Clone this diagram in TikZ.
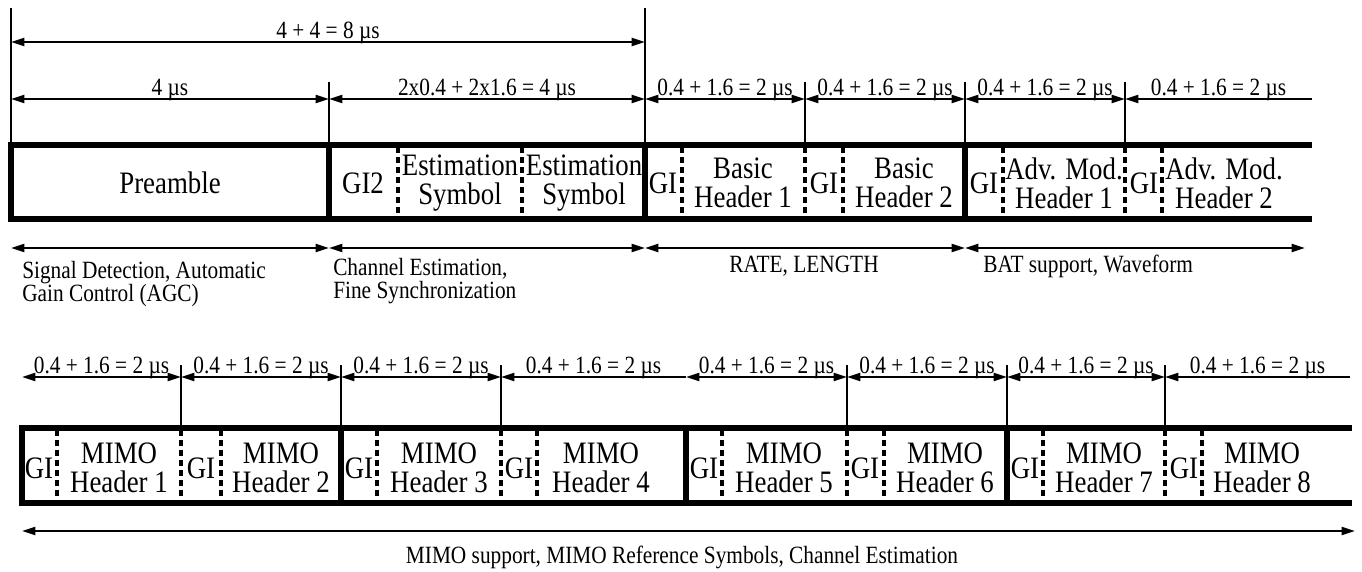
\documentclass[tikz,border=0pt]{standalone}
\usepackage{fontspec}
\setmainfont{Liberation Serif}[FakeStretch=0.86]
\usetikzlibrary{arrows.meta,positioning}

\begin{document}
\begin{tikzpicture}[
  x=0.75pt, y=-0.75pt,
  every node/.style={inner sep=0pt, font=\fontsize{18.6}{17.25}\selectfont},
  cellbox/.style={align=center, font=\fontsize{23.4}{21.75}\selectfont},
  notetext/.style={align=left, anchor=west},
  durlabel/.style={midway, anchor=base, yshift=3pt},
  frameline/.style={line width=3.9pt},
  gisep/.style={line width=2.3pt, dash pattern=on 4.5pt off 3pt},
  tickline/.style={line width=1.5pt},
  durarrow/.style={line width=1.5pt, {Triangle[length=10pt,width=6pt]}-{Triangle[length=10pt,width=6pt]}},
  openarrow/.style={line width=1.5pt, {Triangle[length=10pt,width=6pt]}-}
]
\useasboundingbox (0,0) rectangle (1362,571);

% upper frame
\draw[frameline] (11,145) rectangle (645,219);
\draw[frameline] (329,145) -- (329,219);
\draw[frameline] (645,145) rectangle (965,219);
\draw[frameline] (965,145) -- (1312,145) (965,219) -- (1312,219);
\foreach \x in {398,522,682,805,843,1003,1125,1162}
  \draw[gisep] (\x,147) -- (\x,217);
\draw[tickline] (11,8) -- (11,145) (645,8) -- (645,145);
\foreach \x in {329,805,965,1125}
  \draw[tickline] (\x,82) -- (\x,145);

\node[cellbox] (pre) at (170,183) {Preamble};
\node[cellbox] (gi2) at (363,183) {GI2};
\node[cellbox] (est1) at (460,183) {Estimation\\Symbol};
\node[cellbox] (est2) at (584,183) {Estimation\\Symbol};
\node[cellbox] (gib1) at (663,183) {GI};
\node[cellbox] (bh1) at (743,183) {Basic\\Header 1};
\node[cellbox] (gib2) at (824,183) {GI};
\node[cellbox] (bh2) at (904,183) {Basic\\Header 2};
\node[cellbox] (gia1) at (984,183) {GI};
\node[cellbox] (am1) at (1064,183) {Adv. Mod.\\Header 1};
\node[cellbox] (gia2) at (1144,183) {GI};
\node[cellbox] (am2) at (1224,183) {Adv. Mod.\\Header 2};

% upper durations
\coordinate (t0) at (11,42);
\coordinate (t1) at (645,42);
\draw[durarrow] (t0) -- (t1) node[durlabel] (dtot) {4 + 4 = 8 µs};
\coordinate (a0) at (11,99);
\coordinate (a1) at (329,99);
\coordinate (a2) at (645,99);
\coordinate (a3) at (805,99);
\coordinate (a4) at (965,99);
\coordinate (a5) at (1125,99);
\coordinate (a6) at (1312,99);
\draw[durarrow] (a0) -- (a1) node[durlabel] (dpre) {4 µs};
\draw[durarrow] (a1) -- (a2) node[durlabel] (dest) {2x0.4 + 2x1.6 = 4 µs};
\draw[durarrow] (a2) -- (a3) node[durlabel] (dbh1) {0.4 + 1.6 = 2 µs};
\draw[durarrow] (a3) -- (a4) node[durlabel] (dbh2) {0.4 + 1.6 = 2 µs};
\draw[durarrow] (a4) -- (a5) node[durlabel] (dam1) {0.4 + 1.6 = 2 µs};
\draw[openarrow] (a5) -- (a6) node[durlabel] (dam2) {0.4 + 1.6 = 2 µs};

% upper purposes
\coordinate (b0) at (11,248);
\coordinate (b1) at (329,248);
\coordinate (b2) at (645,248);
\coordinate (b3) at (965,248);
\coordinate (b4) at (1305,248);
\draw[durarrow] (b0) -- (b1);
\draw[durarrow] (b1) -- (b2);
\draw[durarrow] (b2) -- (b3);
\draw[durarrow] (b3) -- (b4);
\node[notetext] (agc) at (22,284) {Signal Detection, Automatic\\Gain Control (AGC)};
\node[notetext] (chest) at (333,281) {Channel Estimation,\\Fine Synchronization};
\node (rate) at (804,266) {RATE, LENGTH};
\node[notetext] (bat) at (983,266) {BAT support, Waveform};

% lower frame
\draw[frameline] (22,428) rectangle (341,503);
\draw[frameline] (341,428) rectangle (686,503);
\draw[frameline] (686,428) rectangle (1007,503);
\draw[frameline] (1007,428) -- (1352,428) (1007,503) -- (1352,503);
\foreach \x in {57,181,221,377,501,537,722,847,884,1043,1165,1202}
  \draw[gisep] (\x,430) -- (\x,501);
\foreach \x in {181,341,501,847,1007,1165}
  \draw[tickline] (\x,365) -- (\x,428);

\node[cellbox] (gim1) at (39,468) {GI};
\node[cellbox] (mh1) at (119,468) {MIMO\\Header 1};
\node[cellbox] (gim2) at (201,468) {GI};
\node[cellbox] (mh2) at (281,468) {MIMO\\Header 2};
\node[cellbox] (gim3) at (359,468) {GI};
\node[cellbox] (mh3) at (439,468) {MIMO\\Header 3};
\node[cellbox] (gim4) at (519,468) {GI};
\node[cellbox] (mh4) at (601,468) {MIMO\\Header 4};
\node[cellbox] (gim5) at (704,468) {GI};
\node[cellbox] (mh5) at (784,468) {MIMO\\Header 5};
\node[cellbox] (gim6) at (865,468) {GI};
\node[cellbox] (mh6) at (945,468) {MIMO\\Header 6};
\node[cellbox] (gim7) at (1025,468) {GI};
\node[cellbox] (mh7) at (1104,468) {MIMO\\Header 7};
\node[cellbox] (gim8) at (1184,468) {GI};
\node[cellbox] (mh8) at (1262,468) {MIMO\\Header 8};

% lower durations
\coordinate (c0) at (22,377);
\coordinate (c1) at (181,377);
\coordinate (c2) at (341,377);
\coordinate (c3) at (501,377);
\coordinate (c4) at (686,377);
\coordinate (c5) at (847,377);
\coordinate (c6) at (1007,377);
\coordinate (c7) at (1165,377);
\coordinate (c8) at (1350,377);
\draw[durarrow] (c0) -- (c1) node[durlabel] (dm1) {0.4 + 1.6 = 2 µs};
\draw[durarrow] (c1) -- (c2) node[durlabel] (dm2) {0.4 + 1.6 = 2 µs};
\draw[durarrow] (c2) -- (c3) node[durlabel] (dm3) {0.4 + 1.6 = 2 µs};
\draw[openarrow] (c3) -- (c4) node[durlabel] (dm4) {0.4 + 1.6 = 2 µs};
\draw[durarrow] (c4) -- (c5) node[durlabel] (dm5) {0.4 + 1.6 = 2 µs};
\draw[durarrow] (c5) -- (c6) node[durlabel] (dm6) {0.4 + 1.6 = 2 µs};
\draw[durarrow] (c6) -- (c7) node[durlabel] (dm7) {0.4 + 1.6 = 2 µs};
\draw[openarrow] (c7) -- (c8) node[durlabel] (dm8) {0.4 + 1.6 = 2 µs};

% lower purpose
\coordinate (m0) at (22,531);
\coordinate (m1) at (1355,531);
\draw[durarrow] (m0) -- (m1);
\node (mimo) at (682,557) {MIMO support, MIMO Reference Symbols, Channel Estimation};
\end{tikzpicture}
\end{document}
